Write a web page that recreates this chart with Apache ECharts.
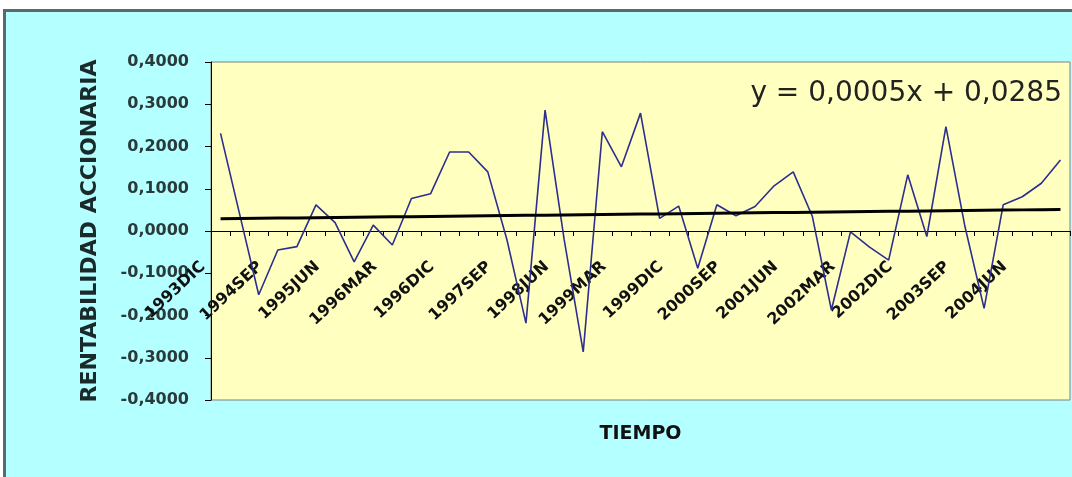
<!DOCTYPE html>
<html>
<head>
<meta charset="utf-8">
<title>Rentabilidad accionaria</title>
<script src="https://cdn.jsdelivr.net/npm/echarts/dist/echarts.min.js"></script>
<style>
  html, body { margin: 0; padding: 0; background: #fff; }
  #main { width: 1072px; height: 477px; }
</style>
</head>
<body>
<div id="main"></div>
<script>
// trimestres
var periodos = [
  '1993DIC',
  '1994MAR', '1994JUN', '1994SEP', '1994DIC',
  '1995MAR', '1995JUN', '1995SEP', '1995DIC',
  '1996MAR', '1996JUN', '1996SEP', '1996DIC',
  '1997MAR', '1997JUN', '1997SEP', '1997DIC',
  '1998MAR', '1998JUN', '1998SEP', '1998DIC',
  '1999MAR', '1999JUN', '1999SEP', '1999DIC',
  '2000MAR', '2000JUN', '2000SEP', '2000DIC',
  '2001MAR', '2001JUN', '2001SEP', '2001DIC',
  '2002MAR', '2002JUN', '2002SEP', '2002DIC',
  '2003MAR', '2003JUN', '2003SEP', '2003DIC',
  '2004MAR', '2004JUN', '2004SEP', '2004DIC'
];

var rentabilidad = [
  0.231, 0.040, -0.151, -0.045, -0.037, 0.062, 0.020, -0.073, 0.014, -0.033,
  0.077, 0.088, 0.187, 0.187, 0.140, -0.020, -0.218, 0.286, -0.020, -0.286,
  0.235, 0.152, 0.279, 0.030, 0.059, -0.088, 0.062, 0.036, 0.058, 0.107,
  0.140, 0.035, -0.187, -0.002, -0.038, -0.069, 0.133, -0.013, 0.247, 0.010,
  -0.183, 0.062, 0.081, 0.113, 0.168
];

// linea de tendencia (ecuacion del grafico)
var pendiente = 0.0005;
var intercepto = 0.0285;
var tendencia = [];
for (var i = 0; i < periodos.length; i++) {
  tendencia.push(+(pendiente * (i + 1) + intercepto).toFixed(4));
}

var ecuacion = 'y = 0,0005x + 0,0285';

var myChart = echarts.init(document.getElementById('main'));

// grid 0 = area de grafico, grid 1 = mitad superior, su eje inferior cae en y=0
var option = {
  backgroundColor: '#B4FFFF',
  animation: false,
  grid: [
    {
      show: true,
      left: 211,
      right: 2,
      top: 62,
      bottom: 77,
      outerBoundsMode: 'none',
      backgroundColor: '#FFFFC0',
      borderColor: '#808080',
      borderWidth: 1
    },
    {
      show: false,
      left: 211,
      right: 2,
      top: 62,
      bottom: 246,
      outerBoundsMode: 'none'
    }
  ],
  xAxis: [
    {
      type: 'category',
      gridIndex: 0,
      data: periodos,
      boundaryGap: true,
      show: false
    },
    {
      type: 'category',
      gridIndex: 1,
      data: periodos,
      boundaryGap: true,
      position: 'bottom',
      name: 'TIEMPO',
      nameLocation: 'middle',
      nameGap: 194,
      nameTextStyle: {
        fontFamily: 'DejaVu Sans',
        fontWeight: 'bold',
        fontSize: 19,
        color: '#111'
      },
      axisLine: { show: true, onZero: false, lineStyle: { color: '#000', width: 1 } },
      axisTick: { show: true, interval: 0, length: 5, lineStyle: { color: '#000' } },
      axisLabel: {
        interval: 2,
        rotate: 43,
        margin: 17,
        padding: [0, 24, 0, 0],
        fontFamily: 'DejaVu Sans',
        fontWeight: 'bold',
        fontSize: 16,
        color: '#111'
      },
      splitLine: { show: false }
    }
  ],
  yAxis: [
    {
      type: 'value',
      gridIndex: 0,
      min: -0.4,
      max: 0.4,
      interval: 0.1,
      name: 'RENTABILIDAD ACCIONARIA',
      nameLocation: 'middle',
      nameRotate: 90,
      nameGap: 110,
      nameTextStyle: {
        fontFamily: 'DejaVu Sans',
        fontWeight: 'bold',
        fontSize: 22,
        color: '#1a2a2a'
      },
      axisLine: { show: true, lineStyle: { color: '#000', width: 1 } },
      axisTick: { show: true, inside: false, length: 6, lineStyle: { color: '#000' } },
      axisLabel: {
        margin: 22,
        fontFamily: 'DejaVu Sans',
        fontWeight: 'bold',
        fontSize: 16,
        color: '#2a3a3a',
        formatter: function (v) {
          return v.toFixed(4).replace('.', ',');
        }
      },
      splitLine: { show: false }
    },
    {
      type: 'value',
      gridIndex: 1,
      min: 0,
      max: 0.4,
      show: false
    }
  ],
  series: [
    {
      name: 'Rentabilidad',
      type: 'line',
      xAxisIndex: 0,
      yAxisIndex: 0,
      data: rentabilidad,
      symbol: 'none',
      lineStyle: { color: '#2E2E8F', width: 1.6 },
      z: 2
    },
    {
      name: 'Tendencia',
      type: 'line',
      xAxisIndex: 0,
      yAxisIndex: 0,
      data: tendencia,
      symbol: 'none',
      lineStyle: { color: '#000', width: 3 },
      z: 3
    }
  ],
  graphic: [
    {
      type: 'text',
      right: 10,
      top: 80,
      style: {
        text: ecuacion,
        fontFamily: 'DejaVu Sans',
        fontSize: 28,
        fill: '#222'
      },
      z: 10
    },
    // marco exterior del grafico
    { type: 'rect', shape: { x: 0, y: 0, width: 1072, height: 9 }, style: { fill: '#fff' }, z: 20 },
    { type: 'rect', shape: { x: 0, y: 0, width: 3, height: 477 }, style: { fill: '#fff' }, z: 20 },
    { type: 'line', shape: { x1: 3, y1: 10.5, x2: 1072, y2: 10.5 }, style: { stroke: '#5a6a6a', lineWidth: 3 }, z: 21 },
    { type: 'line', shape: { x1: 4.5, y1: 9, x2: 4.5, y2: 477 }, style: { stroke: '#5a6a6a', lineWidth: 3 }, z: 21 }
  ]
};

myChart.setOption(option);
</script>
</body>
</html>
